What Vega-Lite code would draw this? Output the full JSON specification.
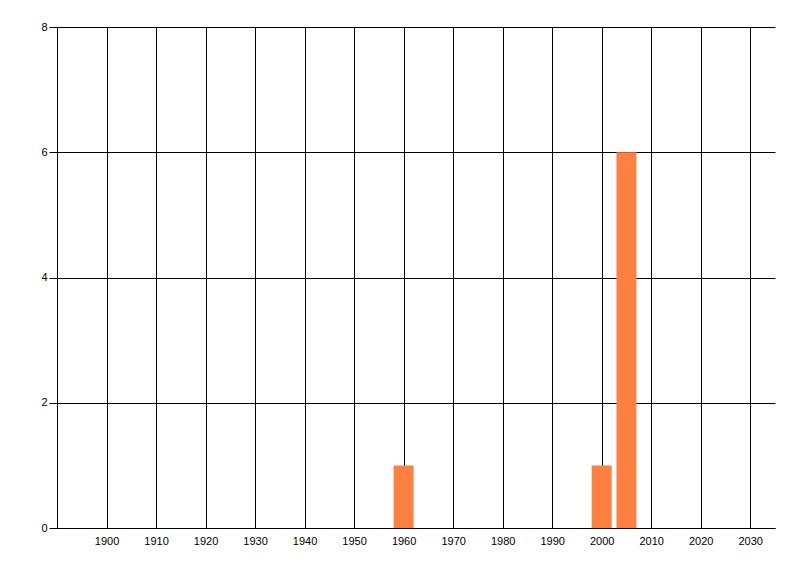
{
  "$schema": "https://vega.github.io/schema/vega-lite/v6.json",
  "width": 718,
  "height": 501,
  "autosize": {"type": "none"},
  "padding": {"left": 57, "top": 27, "right": 25, "bottom": 48},
  "background": "white",
  "config": {
    "view": {"stroke": null},
    "axis": {"labelFont": "Liberation Sans", "labelFontSize": 11, "labelColor": "black", "title": null}
  },
  "data": {
    "values": [
      {"year": 1960, "count": 1},
      {"year": 2000, "count": 1},
      {"year": 2005, "count": 6}
    ]
  },
  "mark": {"type": "bar", "size": 20, "color": "#FF8040"},
  "encoding": {
    "x": {
      "field": "year",
      "type": "quantitative",
      "scale": {"domain": [1890, 2035], "nice": false, "zero": false, "padding": 0},
      "axis": {
        "values": [1900, 1910, 1920, 1930, 1940, 1950, 1960, 1970, 1980, 1990, 2000, 2010, 2020, 2030],
        "format": "d",
        "ticks": false,
        "labelPadding": 7,
        "domainColor": "black",
        "domainWidth": 1,
        "grid": true,
        "gridColor": "black",
        "gridOpacity": 1,
        "gridWidth": 1,
        "labelFlush": false
      }
    },
    "y": {
      "field": "count",
      "type": "quantitative",
      "scale": {"domain": [0, 8], "nice": false, "padding": 0},
      "axis": {
        "values": [0, 2, 4, 6, 8],
        "ticks": true,
        "tickSize": 8,
        "tickColor": "black",
        "labelPadding": 2,
        "domainColor": "black",
        "grid": true,
        "gridColor": "black",
        "gridOpacity": 1,
        "gridWidth": 1,
        "labelFlush": false
      }
    }
  }
}
